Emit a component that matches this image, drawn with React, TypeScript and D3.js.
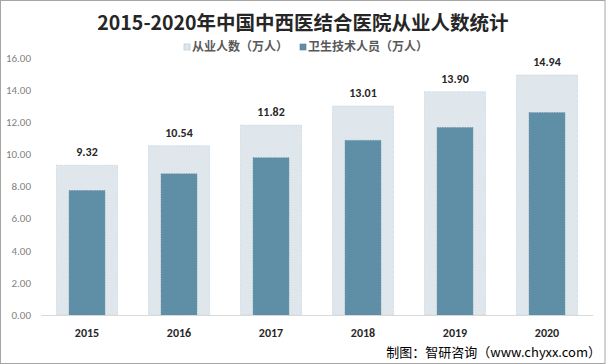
import { useEffect, useRef } from 'react';
import * as d3 from 'd3';

const years = ['2015', '2016', '2017', '2018', '2019', '2020'];
const staffTotal = [9.32, 10.54, 11.82, 13.01, 13.9, 14.94];
const healthTech = [7.75, 8.79, 9.79, 10.87, 11.67, 12.6];
const yTicks = [0, 2, 4, 6, 8, 10, 12, 14, 16];
const seriesNames = ['从业人数（万人）', '卫生技术人员（万人）'];

const App = () => {
    const svgRef = useRef<SVGSVGElement>(null);
    const width = 606;
    const height = 364;
    const margins = { top: 58, right: 13, bottom: 49, left: 41 };

    useEffect(() => {
        const svg = d3.select(svgRef.current);
        svg.selectAll('*').remove();

        // outer frame
        svg.append('rect')
            .attr('x', 0.5)
            .attr('y', 0.5)
            .attr('width', width - 1.5)
            .attr('height', height - 1)
            .attr('fill', '#fff')
            .attr('stroke', '#a6a6a6');

        const xScale = d3.scaleBand()
            .domain(years)
            .range([margins.left, width - margins.right]);

        const yScale = d3.scaleLinear()
            .domain([0, 16])
            .range([height - margins.bottom, margins.top]);

        const outerW = xScale.bandwidth() * 0.663;
        const innerW = xScale.bandwidth() * 0.39;

        // y labels
        svg.append('g')
            .selectAll('text')
            .data(yTicks)
            .join('text')
            .attr('x', 31)
            .attr('y', d => yScale(d))
            .attr('dy', '0.35em')
            .attr('text-anchor', 'end')
            .attr('font-family', 'Carlito, "Noto Sans", sans-serif')
            .attr('font-size', 11)
            .attr('fill', '#7f7f7f')
            .text(d => d.toFixed(2));

        svg.selectAll('.outer')
            .data(staffTotal)
            .join('rect')
            .attr('class', 'outer')
            .attr('x', (d, i) => xScale(years[i])! + (xScale.bandwidth() - outerW) / 2)
            .attr('y', d => yScale(d))
            .attr('width', outerW)
            .attr('height', d => yScale(0) - yScale(d))
            .attr('fill', '#dfe7ed')
            .attr('stroke', '#b7cbd8')
            .attr('stroke-width', 0.6)
            .attr('stroke-dasharray', '1.5,1');

        svg.selectAll('.inner')
            .data(healthTech)
            .join('rect')
            .attr('class', 'inner')
            .attr('x', (d, i) => xScale(years[i])! + (xScale.bandwidth() - innerW) / 2)
            .attr('y', d => yScale(d))
            .attr('width', innerW)
            .attr('height', d => yScale(0) - yScale(d))
            .attr('fill', '#5e8fa7')
            .attr('stroke', '#56879f')
            .attr('stroke-width', 0.6)
            .attr('stroke-dasharray', '1.5,1');

        // value labels
        svg.selectAll('.val')
            .data(staffTotal)
            .join('text')
            .attr('class', 'val')
            .attr('x', (d, i) => xScale(years[i])! + xScale.bandwidth() / 2)
            .attr('y', d => yScale(d) - 9)
            .attr('text-anchor', 'middle')
            .attr('font-family', 'Carlito, "Noto Sans", sans-serif')
            .attr('font-weight', 'bold')
            .attr('font-size', 12)
            .attr('fill', '#262626')
            .text(d => d.toFixed(2));

        // x axis line
        svg.append('line')
            .attr('x1', margins.left)
            .attr('x2', width - margins.right)
            .attr('y1', yScale(0) + 0.5)
            .attr('y2', yScale(0) + 0.5)
            .attr('stroke', '#d9d9d9');

        svg.append('g')
            .selectAll('text')
            .data(years)
            .join('text')
            .attr('x', d => xScale(d)! + xScale.bandwidth() / 2)
            .attr('y', 337)
            .attr('text-anchor', 'middle')
            .attr('font-family', 'Carlito, "Noto Sans", sans-serif')
            .attr('font-weight', 'bold')
            .attr('font-size', 12)
            .attr('fill', '#262626')
            .text(d => d);

        // title
        svg.append('text')
            .text('2015-2020年中国中西医结合医院从业人数统计')
            .attr('x', 303)
            .attr('y', 30)
            .attr('text-anchor', 'middle')
            .attr('font-family', '"Noto Sans CJK SC", sans-serif')
            .attr('font-weight', 'bold')
            .attr('font-size', 19.5)
            .attr('fill', '#262626');

        // legend
        const legendX = [184, 300];
        const legendFill = ['#dfe7ed', '#5e8fa7'];
        const legendStroke = ['#a9c1d0', '#4f7f98'];
        const lg = svg.append('g');
        seriesNames.forEach((name, i) => {
            lg.append('rect')
                .attr('x', legendX[i])
                .attr('y', 44)
                .attr('width', 6)
                .attr('height', 6)
                .attr('fill', legendFill[i])
                .attr('stroke', legendStroke[i])
                .attr('stroke-width', 0.6);
            lg.append('text')
                .attr('x', legendX[i] + 8)
                .attr('y', 47)
                .attr('dy', '0.35em')
                .attr('font-family', '"Noto Sans CJK SC", sans-serif')
                .attr('font-weight', 'bold')
                .attr('font-size', 12)
                .attr('fill', '#595959')
                .text(name);
        });

        // source
        svg.append('text')
            .text('制图：智研咨询（www.chyxx.com）')
            .attr('x', 601)
            .attr('y', 357)
            .attr('text-anchor', 'end')
            .attr('font-family', '"Noto Sans CJK SC", sans-serif')
            .attr('font-size', 13)
            .attr('fill', '#000');
    }, []);

    return (
        <div style={{ position: 'absolute', left: 0, top: 0 }}>
            <svg ref={svgRef} width={width} height={height} style={{ display: 'block' }}></svg>
        </div>
    );
};

export default App;
